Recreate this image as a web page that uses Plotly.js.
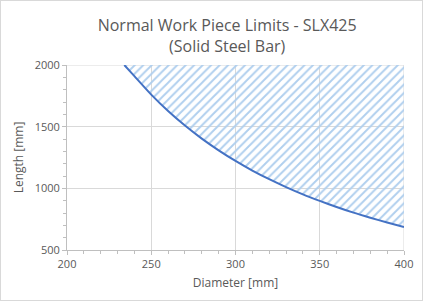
<!DOCTYPE html>
<html><head><meta charset="utf-8">
<script src="https://cdn.plot.ly/plotly-3.0.1.min.js"></script>
<style>html,body{margin:0;padding:0;background:#fff;}#wrap{position:relative;width:423px;height:301px;}#chart{width:423px;height:301px;}#frame{position:absolute;left:0;top:0;width:421px;height:299px;border:1px solid #d9d9d9;pointer-events:none;}</style>
</head><body>
<div id="wrap"><div id="chart"></div><div id="frame"></div></div>
<script>
// Data
const diameter = [234, 240, 250, 260, 270, 280, 290, 300, 310, 320, 330, 340, 350, 360, 370, 380, 390, 400];
const lengthLimit = [2000, 1910, 1760, 1627, 1509, 1403, 1308, 1222, 1144, 1074, 1010, 951, 898, 849, 803, 762, 723, 687];
const upperLength = diameter.map(() => 2000);
const xTicks = [200, 250, 300, 350, 400];
const yTicks = [500, 1000, 1500, 2000];

const font = 'Open Sans, Noto Sans, sans-serif';
const grey = '#595959';

const traces = [
  {x: diameter, y: upperLength, mode: 'lines', line: {width: 0, color: 'rgba(0,0,0,0)'}, hoverinfo: 'skip', showlegend: false},
  {x: diameter, y: lengthLimit, mode: 'lines', line: {color: '#4472c4', width: 2, shape: 'spline', smoothing: 0.6},
   fill: 'tonexty', fillcolor: 'rgba(0,0,0,0)',
   fillpattern: {shape: '/', fgcolor: '#b0cfee', bgcolor: 'rgba(255,255,255,0)', size: 6, solidity: 0.32},
   showlegend: false}
];

const layout = {
  width: 423, height: 301,
  margin: {l: 67, r: 19, t: 65, b: 51},
  paper_bgcolor: '#fff', plot_bgcolor: '#fff',
  font: {family: font, color: grey},
  title: {text: 'Normal Work Piece Limits - SLX425<br>(Solid Steel Bar)', font: {family: font, size: 16, color: grey},
          x: 0.537, xanchor: 'center', yref: 'container', y: 0.896, yanchor: 'middle'},
  xaxis: {range: [200, 400], tickvals: xTicks, ticktext: xTicks.map(String),
          showgrid: true, gridcolor: '#d9d9d9', gridwidth: 1,
          showline: true, linecolor: '#bfbfbf', linewidth: 1,
          ticks: 'outside', ticklen: 4, tickcolor: '#bfbfbf',
          minor: {dtick: 10, tick0: 200, ticks: 'outside', ticklen: 3, tickcolor: '#bfbfbf', showgrid: false},
          tickfont: {size: 11, color: grey, family: font}, zeroline: false,
          title: {text: 'Diameter [mm]', font: {size: 12, color: grey, family: font}, standoff: 8}},
  yaxis: {range: [500, 2000], tickvals: yTicks, ticktext: yTicks.map(String),
          showgrid: true, gridcolor: '#d9d9d9', gridwidth: 1,
          showline: true, linecolor: '#bfbfbf', linewidth: 1,
          ticks: 'outside', ticklen: 4, tickcolor: '#bfbfbf',
          minor: {dtick: 100, tick0: 500, ticks: 'outside', ticklen: 3, tickcolor: '#bfbfbf', showgrid: false},
          tickfont: {size: 11, color: grey, family: font}, zeroline: false,
          title: {text: 'Length [mm]', font: {size: 12, color: grey, family: font}, standoff: 8}},
  shapes: [
    {type: 'line', xref: 'x', yref: 'y', x0: 200, x1: 400, y0: 2000, y1: 2000, line: {color: '#d9d9d9', width: 1}, layer: 'below'},
    {type: 'line', xref: 'x', yref: 'y', x0: 400, x1: 400, y0: 500, y1: 2000, line: {color: '#d9d9d9', width: 1}, layer: 'below'}
  ]
};

Plotly.newPlot('chart', traces, layout, {displayModeBar: false, staticPlot: true});
</script>
</body></html>
